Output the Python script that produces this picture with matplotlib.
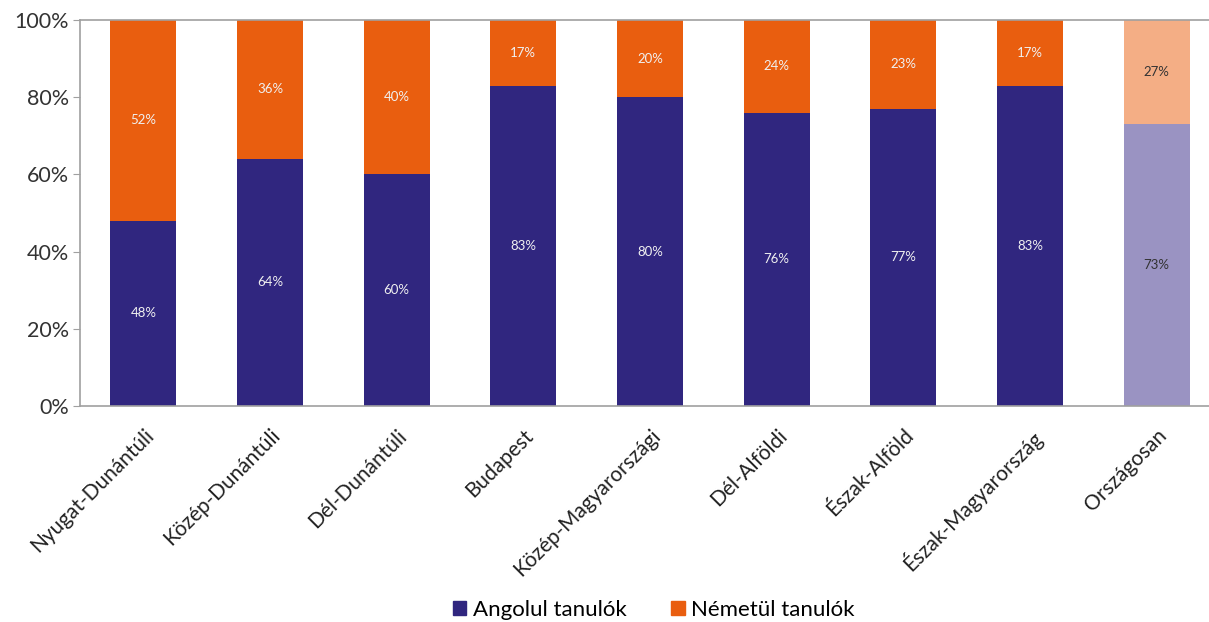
import matplotlib.pyplot as plt
from matplotlib.patches import Patch

regions = ['Nyugat-Dunántúli', 'Közép-Dunántúli', 'Dél-Dunántúli', 'Budapest',
           'Közép-Magyarországi', 'Dél-Alföldi', 'Észak-Alföld', 'Észak-Magyarország',
           'Országosan']
angol = [48, 64, 60, 83, 80, 76, 77, 83, 73]
nemet = [52, 36, 40, 17, 20, 24, 23, 17, 27]

dark_blue = '#30267f'
dark_orange = '#e95e0f'
light_blue = '#9a93c2'
light_orange = '#f4ae85'

plt.rcParams['font.family'] = ['Lato', 'DejaVu Sans']

fig = plt.figure(figsize=(12.09, 6.22), dpi=100)
ax = fig.add_axes([80 / 1209, 1 - 406 / 622, 1140 / 1209, 386 / 622])

x = list(range(len(regions)))
c1 = [dark_blue] * (len(regions) - 1) + [light_blue]
c2 = [dark_orange] * (len(regions) - 1) + [light_orange]
ax.bar(x, angol, width=0.52, color=c1)
ax.bar(x, nemet, width=0.52, bottom=angol, color=c2)

for i in x:
    tc = '#333333' if i == len(regions) - 1 else '#f0f0f0'
    ax.text(i, angol[i] / 2, f'{angol[i]}%', ha='center', va='center', fontsize=9.5, color=tc)
    ax.text(i, angol[i] + nemet[i] / 2, f'{nemet[i]}%', ha='center', va='center', fontsize=9.5, color=tc)

ax.set_xlim(-0.5, len(regions) - 0.5)
ax.set_ylim(0, 100)
ax.set_yticks([0, 20, 40, 60, 80, 100])
ax.set_yticklabels(['0%', '20%', '40%', '60%', '80%', '100%'], fontsize=15.5, color='#333333')
ax.set_xticks(x)
ax.set_xticklabels(regions, rotation=45, ha='right', rotation_mode='anchor', fontsize=15, color='#222222')
ax.tick_params(axis='x', length=0, pad=14)
ax.tick_params(axis='y', length=5, color='#a0a0a0', pad=3)
for s in ['left', 'bottom', 'top']:
    ax.spines[s].set_color('#a0a0a0')
    ax.spines[s].set_linewidth(1.2)
ax.spines['right'].set_visible(False)

handles = [Patch(color=dark_blue, label='Angolul tanulók'),
           Patch(color=dark_orange, label='Németül tanulók')]
fig.legend(handles=handles, loc='center', bbox_to_anchor=(654 / 1209, 1 - 610 / 622), ncol=2,
           frameon=False, fontsize=16, handlelength=0.6, handleheight=0.6,
           handletextpad=0.3, columnspacing=2.0)

fig.savefig('out.png', dpi=100)
